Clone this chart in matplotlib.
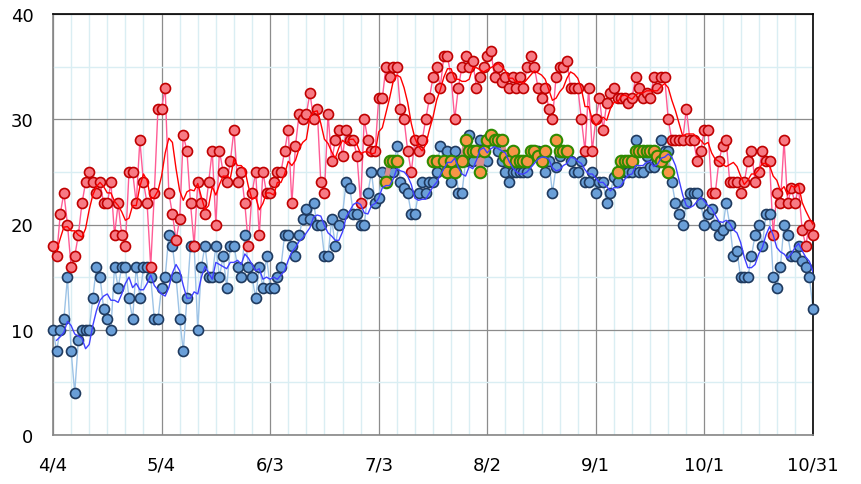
import numpy as np
import pandas as pd
import matplotlib
matplotlib.use("Agg")
from matplotlib import pyplot as plt
from matplotlib.ticker import MultipleLocator

# daily values, 4/4 .. 10/31 (211 days)
tick_labels = ["4/4", "5/4", "6/3", "7/3", "8/2", "9/1", "10/1", "10/31"]

red_hi = [18, 17, 21, 23, 20, 16, 17, 19, 22, 24, 25, 24, 23, 24, 22, 22, 24, 19, 22, 19,
          18, 25, 25, 22, 28, 24, 22, 16, 23, 31,
          31, 33, 23, 21, 18.5, 20.5, 28.5, 27, 22, 18, 24, 22, 21, 24, 27, 20, 27, 25, 24, 26,
          29, 24, 25, 22, 18, 23, 25, 19, 25, 23, 23,
          24, 25, 25, 27, 29, 22, 27.5, 30.5, 30, 30.5, 32.5, 30, 31, 24, 23, 30.5, 26, 28, 29, 26.5,
          29, 28, 28, 26.5, 22, 30, 28, 27, 27, 32,
          32, 35, 34, 35, 35, 31, 30, 27, 25, 28, 27, 28, 30, 32, 34, 35, 33, 36, 36, 34,
          30, 33, 35, 36, 35, 35.5, 33, 34, 35, 36,
          36.5, 34, 35, 33.5, 34, 33, 34, 33, 34, 33, 35, 36, 35, 33, 32, 33, 31, 30, 34, 35,
          35, 35.5, 33, 33, 33, 30, 27, 33, 27, 30,
          32, 29, 31.5, 32.5, 33, 32, 32, 32, 31.5, 32, 34, 33, 32, 32.5, 32, 34, 33, 34, 34, 30,
          28, 28, 28, 28, 31, 28, 28, 26, 27, 29,
          29, 23, 23, 26, 27.5, 28, 24, 24, 24, 23, 24, 26, 27, 24, 25, 27, 26, 26, 19, 23,
          22, 28, 22, 23.5, 22, 23.5, 19.5, 18, 20, 19]

blue_lo = [10, 8, 10, 11, 15, 8, 4, 9, 10, 10, 10, 13, 16, 15, 12, 11, 10, 16, 14, 16,
           16, 13, 11, 16, 13, 16, 16, 15, 11, 11,
           14, 15, 19, 18, 15, 11, 8, 13, 18, 18, 10, 16, 18, 15, 15, 18, 15, 17, 14, 18,
           18, 16, 15, 19, 16, 15, 13, 16, 14, 17, 14,
           14, 15, 16, 19, 19, 18, 17, 19, 20.5, 21.5, 20.5, 22, 20, 20, 17, 17, 20.5, 18, 20, 21,
           24, 23.5, 21, 21, 20, 20, 23, 25, 22, 22.5,
           25, 24, 25, 25, 27.5, 24, 23.5, 23, 21, 21, 23, 24, 23, 24, 24, 25, 27.5, 26, 27, 24,
           27, 23, 23, 26, 28.5, 26, 27, 28, 27, 26,
           28, 28, 27, 26, 25, 24, 25, 25, 25, 25, 25, 27, 27, 27, 26, 25, 26, 23, 25.5, 26.5,
           27, 27, 26, 25, 25, 26, 24, 24, 25, 23,
           24, 24, 22, 23, 24.5, 24, 25, 25, 25, 25, 28, 25, 25, 26.5, 25.5, 25.5, 26, 28, 27, 27,
           24, 22, 21, 20, 22, 23, 23, 23, 22, 20,
           21, 21.5, 20, 19, 19.5, 22, 20, 17, 17.5, 15, 15, 15, 17, 19, 20, 18, 21, 21, 15, 14,
           16, 20, 19, 17, 17, 18, 16.5, 16, 15, 12]

orange_days = [92, 93, 94, 95, 105, 106, 108, 109, 110, 111,
               113, 114, 115, 116, 117, 118, 119, 120, 121, 122, 123, 124, 125, 126, 127, 128,
               129, 130, 131, 132, 133, 134, 135, 136, 139, 140, 141, 142,
               156, 157, 158, 159, 160, 161, 162, 163, 164, 165, 166, 167, 168, 169, 170]
orange_vals = [24, 26, 26, 26, 26, 26, 26, 25, 26, 25,
               26, 28, 27, 27, 27, 25, 27, 28, 28.5, 28, 28, 28, 26.5, 26, 27, 26,
               26, 26, 26, 27, 27, 26.5, 26, 27, 28, 27, 27, 27,
               25, 26, 26, 26, 26, 27, 27, 27, 27, 27, 27, 26.5, 26, 26.5, 25]

days = np.arange(len(red_hi))
red = pd.Series(red_hi, index=days)
blue = pd.Series(blue_lo, index=days)
orange = pd.Series(orange_vals, index=orange_days).reindex(days)

# 5 day running mean
red_avg = red.rolling(5, min_periods=2).mean()
blue_avg = blue.rolling(5, min_periods=2).mean()

fig = plt.figure(figsize=(8.62, 4.85), dpi=100)
ax = fig.add_axes([53/862, 1-436/485, 760/862, 421/485])

ax.plot(days, blue, color="#9DC3E6", lw=1.0, zorder=2)
ax.plot(days, blue, ls="none", marker="o", ms=7.2, mfc="#6A9FD8", mec="#1F3A5F", mew=1.2,
        zorder=3, clip_on=False)
ax.plot(days, red, color="#FF5C95", lw=1.0, zorder=2)
ax.plot(days, red, ls="none", marker="o", ms=7.2, mfc="#F77A84", mec="#C00000", mew=1.2,
        zorder=3, clip_on=False)
ax.plot(days, orange, color="#D98E8E", lw=3.5, zorder=4)
ax.plot(days, orange, ls="none", marker="o", ms=8.3, mfc="#F79646", mec="#2E8B00", mew=1.5, zorder=5)
ax.plot(days, red_avg, color="#FF0000", lw=1.0, zorder=6)
ax.plot(days, blue_avg, color="#4040FF", lw=1.0, zorder=6)

ax.set_xlim(0, 210)
ax.set_ylim(0, 40)
ax.xaxis.set_minor_locator(MultipleLocator(5))
ax.yaxis.set_major_locator(MultipleLocator(10))
ax.yaxis.set_minor_locator(MultipleLocator(5))
ax.set_xticks(np.arange(0, 211, 30))
ax.set_xticklabels(tick_labels)

ax.grid(which="minor", color="#DAEEF3", lw=1.0)
ax.grid(which="major", color="#8C8C8C", lw=0.9)
ax.set_axisbelow(True)

ax.tick_params(which="both", length=0)
ax.tick_params(axis="x", pad=15, labelsize=13)
ax.tick_params(axis="y", pad=14, labelsize=13)

for s in ["left", "bottom"]:
    ax.spines[s].set_color("#868686")
    ax.spines[s].set_linewidth(1.2)
for s in ["top", "right"]:
    ax.spines[s].set_color("black")
    ax.spines[s].set_linewidth(1.2)

fig.savefig("out.png", dpi=100)
